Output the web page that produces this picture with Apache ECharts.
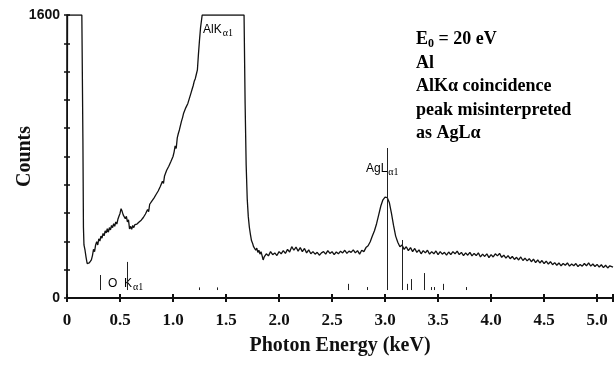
<!DOCTYPE html>
<html>
<head>
<meta charset="utf-8">
<script src="https://cdn.jsdelivr.net/npm/echarts@6/dist/echarts.min.js"></script>
<style>
  html, body { margin: 0; padding: 0; background: #fff; }
  #chart { width: 615px; height: 366px; }
</style>
</head>
<body>
<div id="chart"></div>
<script>
// spectrum (keV, counts); values above 1600 are clipped in the original
var energy = [
  0.00, 0.005, 0.14, 0.15, 0.155, 0.16, 0.17, 0.18, 0.19, 0.20,
  0.21, 0.22, 0.23, 0.24, 0.25, 0.26, 0.27, 0.28, 0.29, 0.30,
  0.31, 0.32, 0.33, 0.34, 0.35, 0.36, 0.37, 0.38, 0.39, 0.40,
  0.41, 0.42, 0.43, 0.44, 0.45, 0.46, 0.47, 0.48, 0.49, 0.50,
  0.51, 0.52, 0.53, 0.54, 0.55, 0.56, 0.57, 0.58, 0.59, 0.60,
  0.61, 0.62, 0.63, 0.64, 0.65, 0.66, 0.67, 0.68, 0.69, 0.70,
  0.71, 0.72, 0.73, 0.74, 0.75, 0.76, 0.77, 0.78, 0.79, 0.80,
  0.81, 0.82, 0.83, 0.84, 0.85, 0.86, 0.87, 0.88, 0.89, 0.90,
  0.91, 0.92, 0.93, 0.94, 0.95, 0.96, 0.97, 0.98, 0.99, 1.00,
  1.01, 1.02, 1.03, 1.04, 1.05, 1.06, 1.07, 1.08, 1.09, 1.10,
  1.11, 1.12, 1.13, 1.14, 1.15, 1.16, 1.17, 1.18, 1.19, 1.20,
  1.21, 1.22, 1.23, 1.24, 1.25, 1.26, 1.275, 1.67, 1.68, 1.69,
  1.70, 1.71, 1.72, 1.73, 1.74, 1.75, 1.76, 1.77, 1.78, 1.79,
  1.80, 1.81, 1.82, 1.83, 1.84, 1.85, 1.86, 1.88, 1.90, 1.92,
  1.94, 1.96, 1.98, 2.00, 2.02, 2.04, 2.06, 2.08, 2.10, 2.12,
  2.14, 2.16, 2.18, 2.20, 2.22, 2.24, 2.26, 2.28, 2.30, 2.32,
  2.34, 2.36, 2.38, 2.40, 2.42, 2.44, 2.46, 2.48, 2.50, 2.52,
  2.54, 2.56, 2.58, 2.60, 2.62, 2.64, 2.66, 2.68, 2.70, 2.72,
  2.74, 2.76, 2.78, 2.80, 2.82, 2.84, 2.86, 2.88, 2.90, 2.92,
  2.94, 2.96, 2.98, 3.00, 3.02, 3.04, 3.06, 3.08, 3.10, 3.12,
  3.14, 3.16, 3.18, 3.20, 3.22, 3.24, 3.26, 3.28, 3.30, 3.32,
  3.34, 3.36, 3.38, 3.40, 3.42, 3.44, 3.46, 3.48, 3.50, 3.52,
  3.54, 3.56, 3.58, 3.60, 3.62, 3.64, 3.66, 3.68, 3.70, 3.72,
  3.74, 3.76, 3.78, 3.80, 3.82, 3.84, 3.86, 3.88, 3.90, 3.92,
  3.94, 3.96, 3.98, 4.00, 4.02, 4.04, 4.06, 4.08, 4.10, 4.12,
  4.14, 4.16, 4.18, 4.20, 4.22, 4.24, 4.26, 4.28, 4.30, 4.32,
  4.34, 4.36, 4.38, 4.40, 4.42, 4.44, 4.46, 4.48, 4.50, 4.52,
  4.54, 4.56, 4.58, 4.60, 4.62, 4.64, 4.66, 4.68, 4.70, 4.72,
  4.74, 4.76, 4.78, 4.80, 4.82, 4.84, 4.86, 4.88, 4.90, 4.92,
  4.94, 4.96, 4.98, 5.00, 5.02, 5.04, 5.06, 5.08, 5.10, 5.12,
  5.15
];
var counts = [
  0, 1600, 1600, 900, 400, 300, 270, 230, 195, 185,
  198, 188, 215, 240, 275, 262, 300, 318, 300, 335,
  322, 350, 338, 365, 352, 380, 368, 392, 372, 398,
  385, 410, 398, 420, 405, 430, 418, 445, 462, 478,
  505, 490, 470, 480, 448, 462, 430, 442, 390, 405,
  388, 410, 398, 415, 405, 418, 410, 430, 422, 440,
  432, 455, 448, 475, 465, 500, 488, 530, 520, 548,
  540, 565, 555, 585, 575, 605, 598, 630, 622, 660,
  648, 690, 680, 722, 712, 745, 738, 772, 765, 800,
  825, 860, 845, 905, 930, 950, 940, 1000, 1020, 1045,
  1035, 1075, 1065, 1100, 1095, 1140, 1160, 1180, 1200, 1225,
  1240, 1265, 1290, 1380, 1460, 1530, 1600, 1600, 1100, 750,
  560, 460, 400, 360, 325, 310, 290, 300, 270, 282,
  258, 270, 248, 262, 240, 215, 232, 250, 238, 262,
  245, 255, 240, 262, 250, 268, 252, 275, 260, 290,
  270, 288, 265, 285, 262, 280, 255, 272, 250, 262,
  248, 258, 242, 255, 262, 248, 268, 252, 262, 245,
  260, 250, 265, 255, 270, 252, 265, 258, 272, 255,
  268, 248, 270, 262, 285, 295, 318, 350, 380, 420,
  470, 520, 555, 570, 568, 540, 480, 410, 350, 315,
  290, 300, 275, 290, 268, 285, 262, 280, 258, 272,
  250, 268, 255, 270, 248, 262, 250, 266, 245, 262,
  248, 258, 242, 260, 245, 262, 250, 265, 245, 258,
  240, 255, 242, 258, 238, 252, 240, 255, 232, 248,
  235, 250, 228, 245, 232, 250, 238, 252, 230, 242,
  225, 240, 222, 235, 218, 230, 215, 232, 212, 225,
  210, 222, 205, 220, 200, 215, 198, 212, 195, 208,
  192, 205, 188, 200, 185, 198, 182, 195, 185, 198,
  180, 192, 182, 195, 178, 190, 180, 195, 182, 198,
  180, 192, 178, 190, 175, 188, 172, 185, 170, 182,
  175
];

// KLM marker lines (keV, top in counts)
var markerEnergy = [0.31, 0.57, 1.25, 1.42, 2.65, 2.83, 3.02, 3.16, 3.21, 3.25, 3.37, 3.44, 3.46, 3.55, 3.77];
var markerTop = [130, 204, 60, 60, 80, 62, 848, 328, 80, 107, 141, 62, 62, 80, 62];
var markerBase = 45;

var xTicks = [0, 0.5, 1.0, 1.5, 2.0, 2.5, 3.0, 3.5, 4.0, 4.5, 5.0];

var serif = "'Liberation Serif', 'DejaVu Serif', serif";
var sans = "'Liberation Sans', Arial, sans-serif";

var chart = echarts.init(document.getElementById("chart"));

var lineData = energy.map(function (e, i) { return [e, counts[i]]; });
var markerLines = markerEnergy.map(function (e, i) {
  return [{ coord: [e, markerBase] }, { coord: [e, markerTop[i]] }];
});

var subRich = {
  n: { fontFamily: sans, fontSize: 12, color: "#222" },
  s: { fontFamily: serif, fontSize: 10, color: "#222", padding: [6, 0, 0, 1] }
};
var noteRich = {
  b: { fontFamily: serif, fontSize: 18, fontWeight: "bold", color: "#111" },
  sub: { fontFamily: serif, fontSize: 12, fontWeight: "bold", color: "#111", padding: [8, 0, 0, 0] }
};

var axisBase = {
  type: "value",
  min: 0,
  max: 5.15,
  interval: 0.5,
  splitLine: { show: false }
};

var option = {
  animation: false,
  backgroundColor: "#fff",
  grid: { left: 67, right: 2, top: 15, bottom: 68, outerBoundsMode: "none", containLabel: false },
  xAxis: [
    Object.assign({}, axisBase, {
      name: "Photon Energy (keV)",
      nameLocation: "middle",
      nameGap: 38,
      nameMoveOverlap: false,
      nameTextStyle: { fontFamily: serif, fontSize: 20, fontWeight: "bold", color: "#111" },
      axisLine: { lineStyle: { color: "#111", width: 2 } },
      axisTick: { length: 4, lineStyle: { color: "#111", width: 2 } },
      axisLabel: {
        margin: 14,
        fontFamily: serif, fontSize: 17, fontWeight: "bold", color: "#111",
        formatter: function (v) {
          for (var i = 0; i < xTicks.length; i++) {
            if (Math.abs(xTicks[i] - v) < 1e-6) return v === 0 ? "0" : v.toFixed(1);
          }
          return "";
        }
      }
    }),
    Object.assign({}, axisBase, {
      position: "bottom",
      axisLine: { show: false },
      axisTick: { inside: true, length: 4, lineStyle: { color: "#111", width: 2 } },
      axisLabel: { show: false }
    })
  ],
  yAxis: [
    {
      type: "value",
      min: 0,
      max: 1600,
      interval: 160,
      name: "Counts",
      nameLocation: "middle",
      nameGap: 32,
      nameMoveOverlap: false,
      nameTextStyle: { fontFamily: serif, fontSize: 20, fontWeight: "bold", color: "#111" },
      splitLine: { show: false },
      axisLine: { show: true, lineStyle: { color: "#111", width: 1.5 } },
      axisTick: { length: 3, lineStyle: { color: "#111", width: 1.5 } },
      axisLabel: {
        margin: 7,
        fontFamily: sans, fontSize: 14, fontWeight: "bold", color: "#111",
        formatter: function (v) { return (v === 0 || v === 1600) ? String(v) : ""; }
      }
    },
    {
      type: "value",
      min: 0,
      max: 1600,
      interval: 160,
      position: "left",
      splitLine: { show: false },
      axisLine: { show: false },
      axisTick: { inside: true, length: 3, lineStyle: { color: "#111", width: 1.5 } },
      axisLabel: { show: false }
    }
  ],
  series: [
    {
      type: "line",
      data: lineData,
      showSymbol: false,
      lineStyle: { color: "#111", width: 1.3 },
      markLine: {
        silent: true,
        symbol: "none",
        label: { show: false },
        lineStyle: { color: "#222", width: 1, type: "solid" },
        data: markerLines
      }
    }
  ],
  graphic: [
    {
      type: "text", left: 203, top: 24,
      style: { text: "{n|AlK}{s|α1}", rich: subRich }
    },
    {
      type: "text", left: 366, top: 163,
      style: { text: "{n|AgL}{s|α1}", rich: subRich }
    },
    {
      type: "text", left: 108, top: 278,
      style: { text: "{n|O  K}{s|α1}", rich: subRich }
    },
    {
      type: "text", left: 416, top: 28,
      style: {
        text: "{b|E}{sub|0}{b| = 20 eV}\n{b|Al}\n{b|AlKα coincidence}\n{b|peak misinterpreted}\n{b|as AgLα}",
        lineHeight: 23.5,
        rich: noteRich
      }
    }
  ]
};

chart.setOption(option);
</script>
</body>
</html>
